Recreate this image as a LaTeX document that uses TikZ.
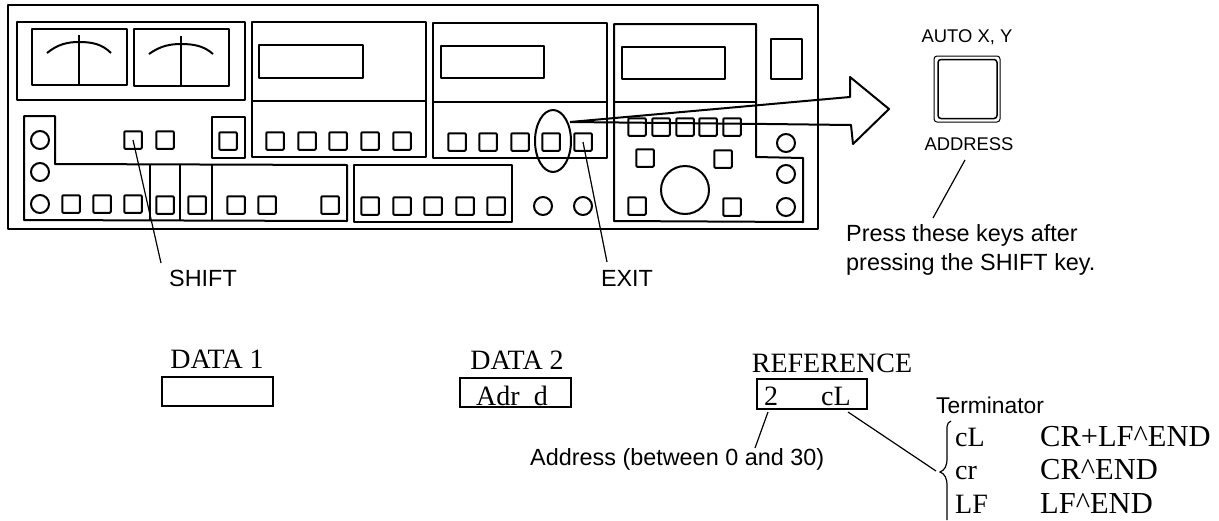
\documentclass[tikz,border=0pt]{standalone}
\usepackage{fontspec}
\setmainfont{Liberation Serif}
\setsansfont{Liberation Sans}
\tikzset{
	panel/.style={line width=2pt,line join=round},
	keybtn/.style={draw,rectangle,rounded corners=1pt,line width=2pt,minimum size=17.5pt,inner sep=0pt},
	knob/.style={draw,circle,line width=2pt,minimum size=18pt,inner sep=0pt},
	leader/.style={line width=1.2pt},
	sanstext/.style={font=\sffamily\fontsize{23.4}{29}\selectfont,inner sep=0pt},
	smalltext/.style={font=\sffamily\fontsize{18.4}{18}\selectfont,inner sep=0pt},
	serifhead/.style={font=\fontsize{28}{28}\selectfont,inner sep=0pt},
	seriftext/.style={font=\fontsize{28}{28}\selectfont,inner sep=0pt},
	serifwide/.style={font=\fontsize{30.5}{30}\selectfont,inner sep=0pt},
	lcd/.style={draw,rectangle,line width=1.2pt,inner sep=0pt}
}
\begin{document}
\begin{tikzpicture}[x=1pt,y=-1pt]
	\useasboundingbox (0,0) rectangle (1219,520);

	% Housing
	\draw[panel] (8,5) rectangle (818,229);

	% Meters
	\draw[panel] (17,22) rectangle (245,100);
	\draw[panel] (32,29) rectangle (127,85);
	\draw[panel] (134,29) rectangle (229,86);
	\draw[panel] (47,53) .. controls (58,44) and (68,42) .. (79,42) .. controls (92,42) and (102,44) .. (111,53);
	\draw[panel] (149,54) .. controls (160,46) and (170,44) .. (181,44) .. controls (194,44) and (204,46) .. (213,54);
	\draw[panel] (79,35) -- (79,85);
	\draw[panel] (181,36) -- (181,86);

	% Left block
	\draw[panel] (24,116) -- (55,116) -- (55,164) -- (347,165) -- (347,221) -- (24,220) -- cycle;
	\draw[panel] (150,164) -- (150,221);
	\draw[panel] (180,164) -- (180,221);
	\draw[panel] (212,164) -- (212,221);
	\draw[panel] (212,117) rectangle (245,158);
	\node[knob] (kn1) at (40,140) {};
	\node[knob] (kn2) at (40,172) {};
	\node[knob] (kn3) at (40,204) {};
	\node[keybtn] (shiftkey) at (133,140) {};
	\node[keybtn] (lb2) at (165,140) {};
	\node[keybtn] (lb3) at (228,141) {};
	\node[keybtn] (lb4) at (71,204) {};
	\node[keybtn] (lb5) at (102,204) {};
	\node[keybtn] (lb6) at (133,204) {};
	\node[keybtn] (lb7) at (165,205) {};
	\node[keybtn] (lb8) at (197,205) {};
	\node[keybtn] (lb9) at (236,205) {};
	\node[keybtn] (lb10) at (267,205) {};
	\node[keybtn] (lb11) at (330,205) {};

	% DATA 1 block
	\draw[panel] (252,22) rectangle (426,157);
	\draw[panel] (252,101) -- (426,101);
	\draw[panel] (259,45) rectangle (363,78);
	\node[keybtn] (da1) at (275,141) {};
	\node[keybtn] (da2) at (307,141) {};
	\node[keybtn] (da3) at (338,141) {};
	\node[keybtn] (da4) at (370,141) {};
	\node[keybtn] (da5) at (402,141) {};

	% Lower middle block
	\draw[panel] (354,165) rectangle (512,222);
	\node[keybtn] (lm1) at (370,206) {};
	\node[keybtn] (lm2) at (402,206) {};
	\node[keybtn] (lm3) at (433,206) {};
	\node[keybtn] (lm4) at (465,206) {};
	\node[keybtn] (lm5) at (496,206) {};

	% DATA 2 block
	\draw[panel] (433,23) rectangle (607,158);
	\draw[panel] (433,102) -- (607,102);
	\draw[panel] (441,46) rectangle (544,78);
	\node[keybtn] (db1) at (457,142) {};
	\node[keybtn] (db2) at (488,142) {};
	\node[keybtn] (db3) at (520,142) {};
	\node[keybtn] (autokey) at (551,142) {};
	\node[keybtn] (exitkey) at (583,142) {};
	\node[knob] (kn4) at (543,206) {};
	\node[knob] (kn5) at (583,206) {};
	\draw[panel] (553,141) ellipse (18 and 31);

	% REFERENCE block
	\draw[panel] (614,24) -- (756,24) -- (756,157) -- (803,158) -- (803,222) -- (614,221) -- cycle;
	\draw[panel] (614,102) -- (756,102);
	\draw[panel] (622,47) rectangle (725,79);
	\draw[panel] (771,39) rectangle (802,79);
	\node[keybtn] (rb1) at (637,127) {};
	\node[keybtn] (rb2) at (661,127) {};
	\node[keybtn] (rb3) at (685,127) {};
	\node[keybtn] (rb4) at (708,127) {};
	\node[keybtn] (rb5) at (732,127) {};
	\node[keybtn] (rb6) at (645,158) {};
	\node[keybtn] (rb7) at (723,159) {};
	\node[keybtn] (rb8) at (637,206) {};
	\node[keybtn] (rb9) at (732,207) {};
	\node[draw,circle,line width=2pt,minimum size=48pt,inner sep=0pt] (dial) at (685,190) {};
	\node[knob] (kn6) at (786,143) {};
	\node[knob] (kn7) at (786,174) {};
	\node[knob] (kn8) at (786,207) {};

	% Big arrow
	\draw[panel] (570,122) -- (850,97) -- (850,77) -- (889,109) -- (853,144) -- (851,125) -- (767,124) -- (570,122);

	% Key close up
	\node[draw,rectangle,rounded corners=3pt,line width=1pt,minimum size=66pt,inner sep=0pt] (bigkey) at (967,89) {};
	\node[draw,rectangle,rounded corners=3pt,line width=1.5pt,minimum size=59pt,inner sep=0pt] (bigkeyin) at (967.5,89) {};
	\node[smalltext] (autolabel) at (967,37) {AUTO X, Y};
	\node[smalltext] (addrlabel) at (969,144) {ADDRESS};
	\node[sanstext,align=left,anchor=base west] (presslabel) at (846,270) {Press these keys after\\pressing the SHIFT key.};
	\coordinate (addrfoot) at (965,160);
	\coordinate (pressfoot) at (933,218);
	\draw[leader] (addrfoot) -- (pressfoot);

	% Key labels
	\node[sanstext] (shiftlabel) at (203,278) {SHIFT};
	\node[sanstext] (exitlabel) at (627,278) {EXIT};
	\coordinate (shiftfoot) at (161,263);
	\coordinate (exitfoot) at (607,262);
	\draw[leader] (shiftkey.center) -- (shiftfoot);
	\draw[leader] (exitkey.center) -- (exitfoot);

	% Displays
	\node[serifhead] (data1) at (217,359) {DATA 1};
	\node[serifhead] (data2) at (517,360) {DATA 2};
	\node[serifhead] (refname) at (832,363) {REFERENCE};
	\node[lcd,minimum width=111pt,minimum height=29pt] (box1) at (217.5,391.5) {};
	\node[lcd,minimum width=111pt,minimum height=29pt] (box2) at (515.5,392.5) {};
	\node[lcd,minimum width=110pt,minimum height=30pt] (box3) at (812,394) {};
	\node[seriftext,anchor=base] (adrd) at (512,405) {Adr\hspace{14pt}d};
	\node[seriftext,anchor=base] (reftwo) at (771,405) {2};
	\node[seriftext,anchor=base] (refcl) at (836,405) {cL};

	% Address note
	\node[sanstext,anchor=base west] (addrnote) at (530,465) {Address (between 0 and 30)};
	\coordinate (addrtop) at (768,412);
	\coordinate (addrend) at (755,448);
	\draw[leader] (addrtop) -- (addrend);

	% Terminator table
	\node[sanstext,anchor=base west,font=\sffamily\fontsize{22.8}{24}\selectfont] (termlabel) at (936,413) {Terminator};
	\coordinate (termtop) at (848,412);
	\coordinate (termend) at (936,471);
	\draw[leader] (termtop) -- (termend);
	\draw[line width=1.2pt] (951,421) .. controls (946,423) and (947,428) .. (947,434) -- (947,458) .. controls (947,466) and (945,470) .. (940,472) .. controls (945,474) and (947,478) .. (947,486) -- (947,520);
	\node[seriftext,anchor=base west] (t1a) at (955,446) {cL};
	\node[seriftext,anchor=base west] (t2a) at (955,479) {cr};
	\node[seriftext,anchor=base west] (t3a) at (955,513) {LF};
	\node[serifwide,anchor=base west] (t1b) at (1040,446) {CR+LF\textasciicircum END};
	\node[serifwide,anchor=base west] (t2b) at (1040,479) {CR\textasciicircum END};
	\node[serifwide,anchor=base west] (t3b) at (1040,513) {LF\textasciicircum END};

\end{tikzpicture}
\end{document}
